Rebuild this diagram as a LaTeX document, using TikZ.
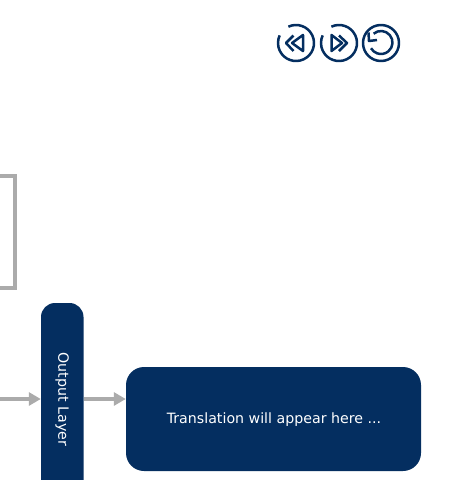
\documentclass[tikz,border=0pt]{standalone}
\usepackage{fontspec}
\setmainfont{DejaVu Sans}
\usetikzlibrary{arrows.meta}
\definecolor{navy}{HTML}{042E60}
\definecolor{wire}{HTML}{ABABAB}
\tikzstyle{darkbox}=[fill=navy,text=white,inner sep=0pt]
\tikzstyle{boxlabel}=[text=white,font=\fontsize{14.2}{16}\selectfont]
\tikzstyle{wire edge}=[draw=wire,line width=3.5pt,-{Triangle[length=12pt,width=13pt]}]
\tikzstyle{icon}=[draw=navy,line width=2.5pt,line join=round]
\begin{document}
\begin{tikzpicture}[x=1pt,y=-1pt]
    \useasboundingbox (0,0) rectangle (450,480);
    \clip (0,0) rectangle (450,480);
    % First we draw the boxes
    \node[draw=wire,line width=4pt,minimum width=60pt,minimum height=112pt,inner sep=0pt] (hidden) at (-15.5,231.5) {};
    \node[darkbox,rounded corners=14pt,minimum width=42.5pt,minimum height=193pt] (output) at (62.25,399.5) {};
    \node[boxlabel,rotate=-90] (outputlabel) at (62.25,399.5) {Output Layer};
    \node[darkbox,rounded corners=18pt,minimum width=295pt,minimum height=104pt] (translation) at (273.5,419) {};
    \node[boxlabel] (translationlabel) at (274,420) {Translation will appear here ...};
    % Connect boxes with arrows
    \coordinate (start) at (0,399);
    \path[wire edge] (start) -- (start -| output.west);
    \path[wire edge] (output.east |- start) -- (translation.west |- start);
    % Now the three buttons, each one drawn around its centre
    \foreach \cx in {296,339}
        \draw[icon] (\cx,43) ++(-115:18) arc[start angle=-115,end angle=205,radius=18];
    \draw[icon] (292,43) -- (303,35) -- (303,51) -- cycle;
    \draw[icon] (293.5,35.5) -- (286,43) -- (293.5,51);
    \draw[icon] (331.5,35) -- (342,43) -- (331.5,51) -- cycle;
    \draw[icon] (339,35.5) -- (347,43) -- (339,51);
    \draw[icon] (381,43) circle[radius=18];
    \draw[icon] (381,42.5) ++(-130:11.5) arc[start angle=-130,end angle=150,radius=11.5];
    \draw[icon] (368.5,32.5) -- (369,41) -- (377,40);
\end{tikzpicture}
\end{document}
